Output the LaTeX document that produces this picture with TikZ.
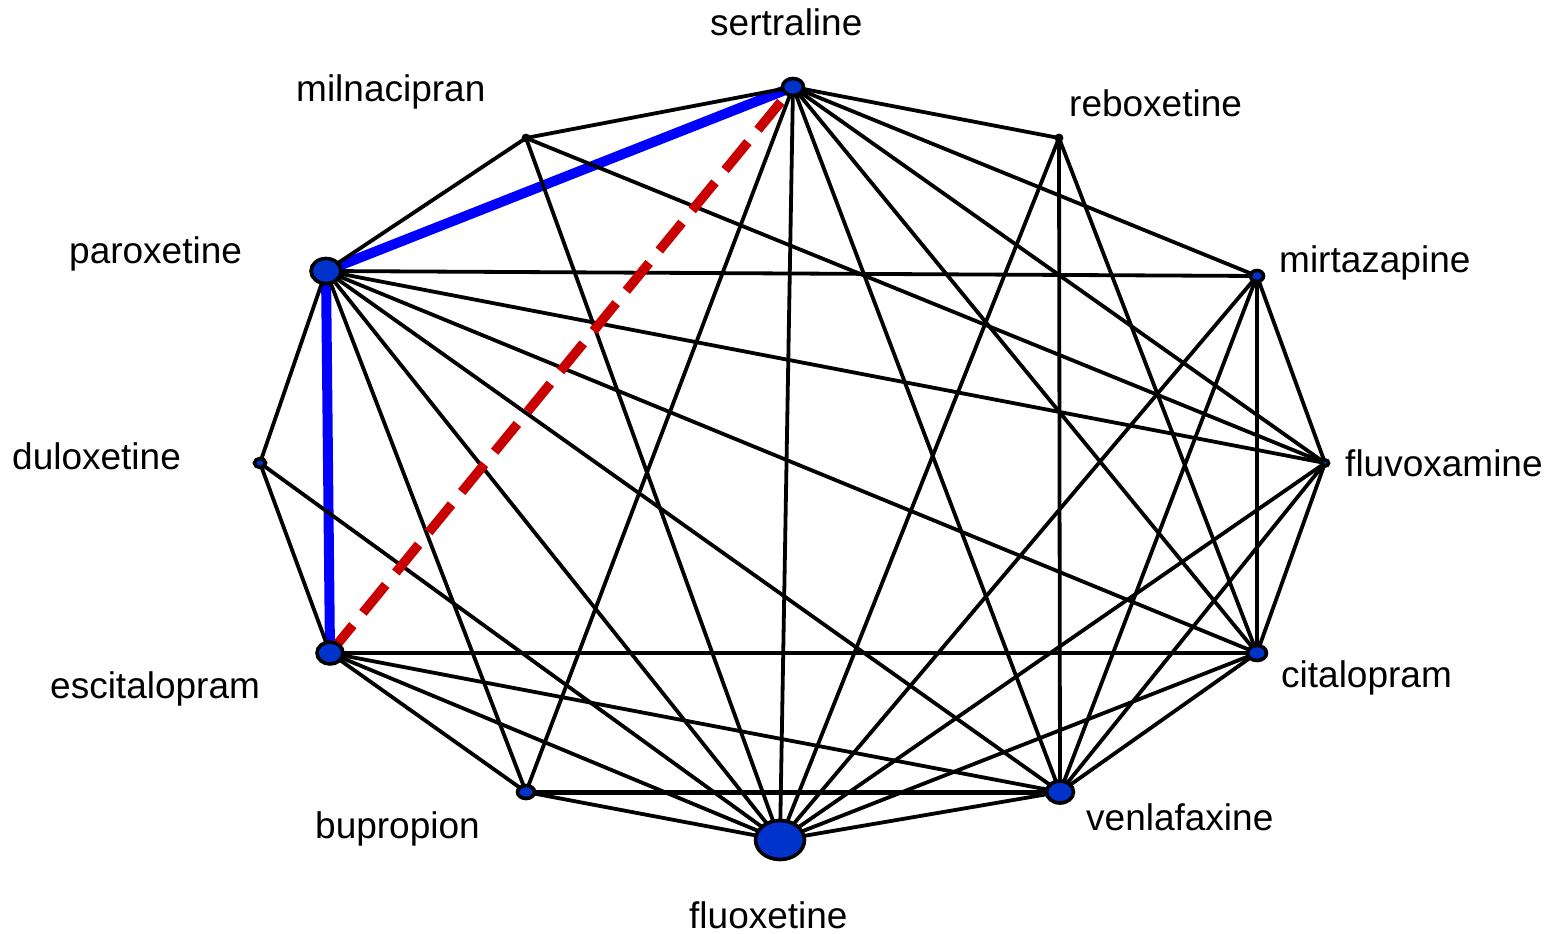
\documentclass[tikz,border=0pt]{standalone}
\usepackage{fontspec}
\setmainfont{Liberation Sans}
\usetikzlibrary{shapes.geometric}
\pgfdeclarelayer{edges}
\pgfsetlayers{edges,main}

\definecolor{nodeblue}{RGB}{0,51,204}
\definecolor{hlblue}{RGB}{0,0,255}
\definecolor{hlred}{RGB}{200,0,0}

\tikzset{
  drug/.style={ellipse, draw=black, line width=3.6pt, fill=nodeblue, inner sep=0pt},
  lbl/.style={anchor=base west, inner sep=0pt, font=\fontsize{37}{40}\selectfont},
  link/.style={line width=3.8pt},
  heavylink/.style={line width=5pt},
  bluelink/.style={draw=hlblue, line width=10pt},
  redlink/.style={draw=hlred, line width=9.5pt, dash pattern=on 36pt off 16pt},
}

\begin{document}
\begin{tikzpicture}[x=1pt,y=-1pt]
\useasboundingbox (0,0) rectangle (1556,934);

% treatment nodes, size by sample
\node[drug, minimum width=21pt, minimum height=17pt] (ser) at (793,87) {};
\node[drug, minimum width=5pt,  minimum height=5pt]  (mil) at (526,138) {};
\node[drug, minimum width=5pt,  minimum height=5pt]  (reb) at (1059,138) {};
\node[drug, minimum width=30pt, minimum height=25pt] (par) at (326,271) {};
\node[drug, minimum width=13pt, minimum height=11pt] (mir) at (1257,276) {};
\node[drug, minimum width=11pt, minimum height=9pt]  (dul) at (260,463) {};
\node[drug, minimum width=7pt,  minimum height=6pt]  (flv) at (1325,463) {};
\node[drug, minimum width=26pt, minimum height=22pt] (esc) at (330,653) {};
\node[drug, minimum width=19pt, minimum height=15pt] (cit) at (1257,653) {};
\node[drug, minimum width=17pt, minimum height=13pt] (bup) at (526,792) {};
\node[drug, minimum width=27pt, minimum height=22pt] (ven) at (1060,792) {};
\node[drug, minimum width=49pt, minimum height=39pt] (flx) at (780,840) {};

% labels
\node[lbl] (lser) at (710,36)  {sertraline};
\node[lbl] (lmil) at (296,101) {milnacipran};
\node[lbl] (lreb) at (1069,116) {reboxetine};
\node[lbl] (lpar) at (69,263)  {paroxetine};
\node[lbl] (lmir) at (1279,272) {mirtazapine};
\node[lbl] (ldul) at (12,469)  {duloxetine};
\node[lbl] (lflv) at (1345,476) {fluvoxamine};
\node[lbl] (lesc) at (50,698)  {escitalopram};
\node[lbl] (lcit) at (1281,687) {citalopram};
\node[lbl] (lbup) at (315,838) {bupropion};
\node[lbl] (lven) at (1086,830) {venlafaxine};
\node[lbl] (lflx) at (689,928) {fluoxetine};

\begin{pgfonlayer}{edges}
  % highlighted comparisons (blue, under the black links)
  \draw[bluelink] (ser.center) -- (par.center);
  \draw[bluelink] (par.center) -- (esc.center);

  % direct comparisons
  \foreach \a/\b in {ser/mil, ser/reb, ser/mir, ser/flv, ser/cit, ser/ven, ser/flx, ser/bup,
                     mil/par, mil/flx, mil/flv,
                     reb/ven, reb/flx, reb/cit,
                     par/dul, par/mir, par/flv, par/cit, par/ven, par/flx, par/bup,
                     dul/esc, dul/flx,
                     mir/flv, mir/cit, mir/ven, mir/flx,
                     flv/cit, flv/ven, flv/flx,
                     cit/esc, cit/ven, cit/flx,
                     esc/ven, esc/flx, esc/bup,
                     bup/flx, flx/ven}
    \draw[link] (\a.center) -- (\b.center);
  \draw[heavylink] (bup.center) -- (ven.center);

  % indirect comparison
  \draw[redlink] (esc.center) -- (ser.center);
\end{pgfonlayer}
\end{tikzpicture}
\end{document}
